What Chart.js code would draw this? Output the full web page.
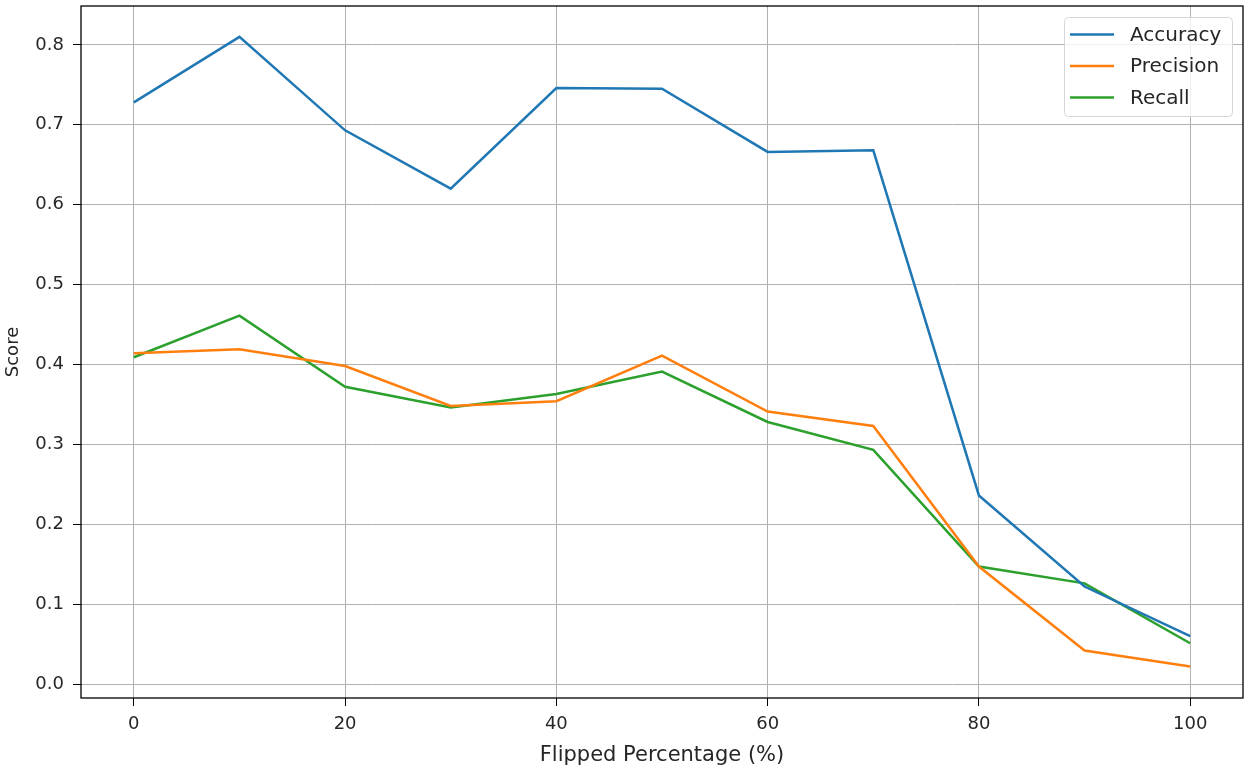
<!DOCTYPE html>
<html>
<head>
<meta charset="utf-8">
<script src="https://cdn.jsdelivr.net/npm/chart.js@4/dist/chart.umd.min.js"></script>
<style>
  html, body { margin: 0; padding: 0; background: #fff; }
  #wrap { width: 1258px; height: 774px; }
</style>
</head>
<body>
<div id="wrap"><canvas id="chart" width="1258" height="774"></canvas></div>
<script>
const flipped = [0, 10, 20, 30, 40, 50, 60, 70, 80, 90, 100];
const accuracy = [0.728, 0.810, 0.693, 0.620, 0.746, 0.745, 0.666, 0.668, 0.236, 0.122, 0.060];
const precision = [0.414, 0.419, 0.398, 0.348, 0.354, 0.411, 0.341, 0.323, 0.147, 0.042, 0.022];
const recall = [0.409, 0.461, 0.372, 0.346, 0.363, 0.391, 0.328, 0.293, 0.147, 0.126, 0.051];
const xTicks = [0, 20, 40, 60, 80, 100];
const yTicks = [0, 0.1, 0.2, 0.3, 0.4, 0.5, 0.6, 0.7, 0.8];

const font = 'DejaVu Sans';

function toPoints(values) {
  return flipped.map((x, i) => ({ x: x, y: values[i] }));
}

// black frame round the plot, like matplotlib spines
const frame = {
  id: 'frame',
  afterDatasetsDraw(chart) {
    const { ctx, chartArea: a } = chart;
    ctx.save();
    ctx.strokeStyle = '#000';
    ctx.lineWidth = 1.3;
    ctx.strokeRect(a.left, a.top, a.right - a.left, a.bottom - a.top);
    ctx.restore();
  }
};

// legend box inside the top right corner
const boxLegend = {
  id: 'boxLegend',
  afterDraw(chart) {
    const { ctx, chartArea: a } = chart;
    const sets = chart.data.datasets;
    const w = 168, h = 99;
    const x0 = a.right - 11 - w, y0 = a.top + 11;
    ctx.save();
    ctx.fillStyle = 'rgba(255,255,255,0.8)';
    ctx.strokeStyle = '#d6d6d6';
    ctx.lineWidth = 1;
    ctx.beginPath();
    ctx.roundRect(x0 + 0.5, y0 + 0.5, w, h, 4);
    ctx.fill();
    ctx.stroke();
    ctx.font = '20px "' + font + '"';
    ctx.textBaseline = 'middle';
    sets.forEach((ds, i) => {
      const y = y0 + 17.5 + i * 31.5;
      ctx.strokeStyle = ds.borderColor;
      ctx.lineWidth = 2.5;
      ctx.beginPath();
      ctx.moveTo(x0 + 6, y);
      ctx.lineTo(x0 + 50, y);
      ctx.stroke();
      ctx.fillStyle = '#262626';
      ctx.fillText(ds.label, x0 + 66, y + 1);
    });
    ctx.restore();
  }
};

new Chart(document.getElementById('chart'), {
  type: 'line',
  data: {
    datasets: [
      { label: 'Accuracy', data: toPoints(accuracy), borderColor: '#1f77b4', backgroundColor: '#1f77b4' },
      { label: 'Precision', data: toPoints(precision), borderColor: '#ff7f0e', backgroundColor: '#ff7f0e' },
      { label: 'Recall', data: toPoints(recall), borderColor: '#2ca02c', backgroundColor: '#2ca02c' }
    ]
  },
  options: {
    responsive: false,
    animation: false,
    layout: { padding: { top: 6, right: 15, left: 0, bottom: 0 } },
    elements: {
      line: { borderWidth: 2.5, tension: 0 },
      point: { radius: 0, hoverRadius: 0 }
    },
    plugins: {
      legend: { display: false },
      tooltip: { enabled: false }
    },
    scales: {
      x: {
        type: 'linear',
        min: -5,
        max: 105,
        afterBuildTicks: s => { s.ticks = xTicks.map(v => ({ value: v })); },
        afterFit: s => { s.height = 76; s.paddingLeft = 0; s.paddingRight = 0; },
        grid: { color: '#b0b0b0', lineWidth: 1, tickColor: '#000', tickLength: 8 },
        border: { display: false },
        ticks: { color: '#262626', padding: 8, font: { family: font, size: 18 }, maxRotation: 0 },
        title: {
          display: true,
          text: 'Flipped Percentage (%)',
          color: '#262626',
          font: { family: font, size: 21 },
          padding: { top: 4, bottom: 6 }
        }
      },
      y: {
        type: 'linear',
        min: -0.0175,
        max: 0.8486,
        afterBuildTicks: s => { s.ticks = yTicks.map(v => ({ value: v })); },
        afterFit: s => { s.width = 81; s.paddingTop = 0; s.paddingBottom = 0; },
        grid: { color: '#b0b0b0', lineWidth: 1, tickColor: '#000', tickLength: 8 },
        border: { display: false },
        ticks: {
          color: '#262626',
          padding: 9,
          font: { family: font, size: 18 },
          callback: v => v.toFixed(1)
        },
        title: {
          display: true,
          text: 'Score',
          color: '#262626',
          font: { family: font, size: 18 },
          padding: { top: 3, bottom: 0 }
        }
      }
    }
  },
  plugins: [frame, boxLegend]
});
</script>
</body>
</html>
